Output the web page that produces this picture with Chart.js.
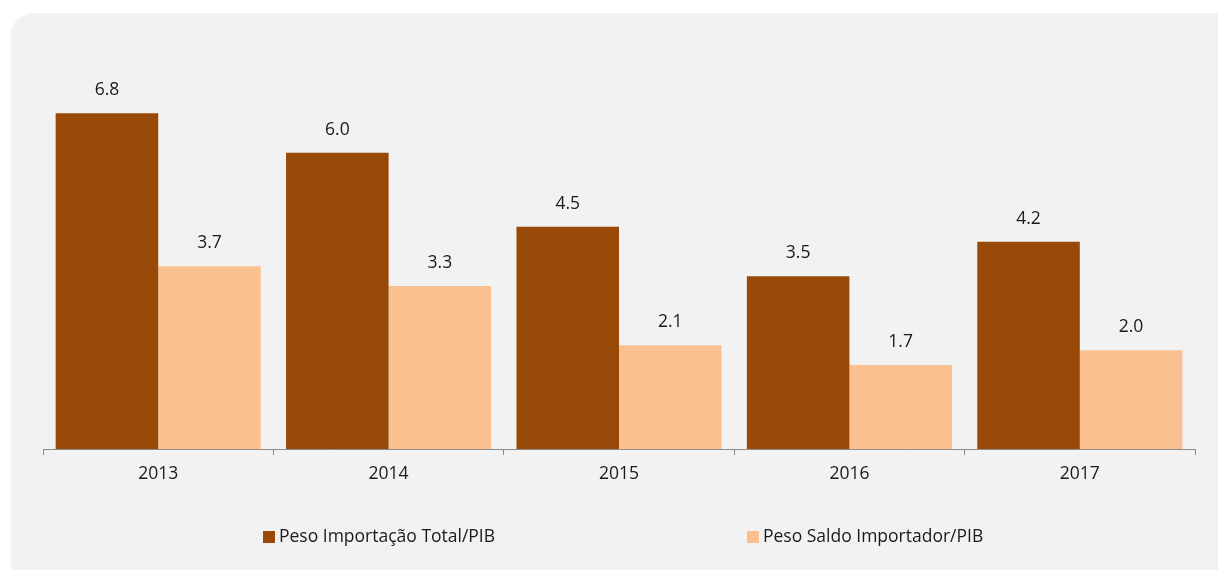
<!DOCTYPE html>
<html>
<head>
<meta charset="utf-8">
<script src="https://cdn.jsdelivr.net/npm/chart.js@4.4.0/dist/chart.umd.min.js"></script>
<style>
  html, body { margin: 0; padding: 0; background: #ffffff; }
  #wrap { width: 1218px; height: 570px; position: relative; }
</style>
</head>
<body>
<div id="wrap"><canvas id="myBarChart" width="1218" height="570"></canvas></div>
<script>
// Chart data
var years = ["2013", "2014", "2015", "2016", "2017"];
var pesoImportacao = [6.8, 6.0, 4.5, 3.5, 4.2];
var pesoSaldo = [3.7, 3.3, 2.1, 1.7, 2.0];
var seriesNames = ["Peso Importação Total/PIB", "Peso Saldo Importador/PIB"];

var FONT = '"Open Sans", Lato, sans-serif';
Chart.defaults.font.family = FONT;
Chart.defaults.color = '#1a1a1a';

// rounded grey panel behind the chart
var panelBg = {
  id: 'panelBg',
  beforeDraw: function (chart) {
    var c = chart.ctx;
    var x = 11, y = 13, w = 1230, h = 580, r = 22;
    c.save();
    c.fillStyle = '#f2f2f2';
    c.beginPath();
    c.moveTo(x + r, y);
    c.lineTo(x + w - r, y);
    c.arcTo(x + w, y, x + w, y + r, r);
    c.lineTo(x + w, y + h - r);
    c.arcTo(x + w, y + h, x + w - r, y + h, r);
    c.lineTo(x + r, y + h);
    c.arcTo(x, y + h, x, y + h - r, r);
    c.lineTo(x, y + r);
    c.arcTo(x, y, x + r, y, r);
    c.closePath();
    c.fill();
    c.restore();
  }
};

// value labels over the bars
var barLabels = {
  id: 'barLabels',
  afterDatasetsDraw: function (chart) {
    var c = chart.ctx;
    c.save();
    c.font = '17.5px ' + FONT;
    c.fillStyle = '#1a1a1a';
    c.textAlign = 'center';
    c.textBaseline = 'middle';
    chart.data.datasets.forEach(function (ds, i) {
      chart.getDatasetMeta(i).data.forEach(function (bar, j) {
        c.fillText(ds.data[j].toFixed(1), bar.x, bar.y - 23);
      });
    });
    c.restore();
  }
};

// legend drawn at the bottom, two items spread apart
var bottomLegend = {
  id: 'bottomLegend',
  afterDraw: function (chart) {
    var c = chart.ctx;
    var xs = [263, 747];
    var yMid = 537;
    c.save();
    c.font = '17.5px ' + FONT;
    c.textBaseline = 'middle';
    c.textAlign = 'left';
    chart.data.datasets.forEach(function (ds, i) {
      c.fillStyle = ds.backgroundColor;
      c.fillRect(xs[i], yMid - 6, 12, 12);
      c.fillStyle = '#1a1a1a';
      c.fillText(ds.label, xs[i] + 16, yMid);
    });
    c.restore();
  }
};

var ctx = document.getElementById("myBarChart");
new Chart(ctx, {
  type: 'bar',
  data: {
    labels: years,
    datasets: [{
      label: seriesNames[0],
      backgroundColor: "#984807",
      data: pesoImportacao
    }, {
      label: seriesNames[1],
      backgroundColor: "#fac090",
      data: pesoSaldo
    }]
  },
  options: {
    responsive: false,
    animation: false,
    devicePixelRatio: 1,
    layout: {
      padding: { left: 43, right: 23, top: 54, bottom: 76 }
    },
    datasets: {
      bar: { barPercentage: 1.0, categoryPercentage: 0.89 }
    },
    scales: {
      x: {
        grid: {
          display: true,
          offset: true,
          drawOnChartArea: false,
          drawTicks: true,
          tickLength: 6,
          color: '#8c8c8c'
        },
        border: { display: true, color: '#8c8c8c', width: 1 },
        ticks: {
          padding: 9,
          font: { size: 17.5 },
          color: '#1a1a1a'
        }
      },
      y: {
        display: false,
        min: 0,
        max: 8
      }
    },
    plugins: {
      legend: { display: false },
      tooltip: { enabled: false }
    }
  },
  plugins: [panelBg, barLabels, bottomLegend]
});
</script>
</body>
</html>
